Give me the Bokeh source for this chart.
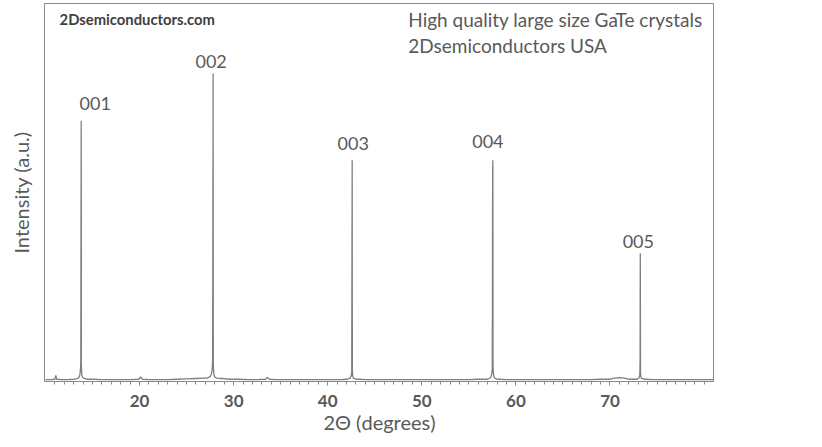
from bokeh.plotting import figure
from bokeh.models import FixedTicker, Range1d, ColumnDataSource, Label
from bokeh.core.properties import value
from bokeh.embed import file_html
from bokeh.resources import INLINE

# ---- data ----
base_2theta = [10.0, 10.6, 11.0, 11.1, 11.2, 11.8, 12.4, 13.0,
               15.0, 16.0, 17.0, 18.0, 19.0, 19.9, 20.1, 20.3, 21.0, 22.0, 23.0, 24.0, 25.0, 26.0, 27.0,
               28.8, 29.5, 30.5, 31.5, 32.5, 33.4, 33.6, 33.8, 34.5, 35.5, 36.5, 37.5, 38.5, 39.5, 40.5, 41.5, 42.0,
               43.3, 44.0, 45.0, 46.0, 47.0, 48.0, 49.0, 50.0, 51.0, 52.0, 53.0, 54.0, 55.0, 56.0, 56.6,
               58.2, 59.0, 60.0, 61.0, 62.0, 63.0, 64.0, 65.0, 66.0, 67.0, 68.0, 69.0, 70.0, 70.5, 71.0, 71.5, 72.0, 72.6,
               73.8, 74.5, 75.5, 76.5, 77.5, 78.5, 79.5, 80.5, 81.0]
base_int = [0.5, 0.5, 0.6, 1.6, 0.6, 0.5, 0.5, 0.6,
            0.6, 0.5, 0.5, 0.5, 0.5, 0.6, 1.2, 0.6, 0.5, 0.5, 0.5, 0.6, 0.7, 0.8, 0.9,
            0.8, 0.6, 0.6, 0.5, 0.5, 0.6, 1.1, 0.6, 0.5, 0.5, 0.5, 0.5, 0.5, 0.5, 0.5, 0.5, 0.6,
            0.6, 0.5, 0.5, 0.5, 0.5, 0.5, 0.5, 0.5, 0.5, 0.5, 0.5, 0.5, 0.5, 0.6, 0.6,
            0.6, 0.5, 0.5, 0.5, 0.5, 0.5, 0.5, 0.5, 0.5, 0.5, 0.5, 0.6, 0.6, 0.9, 1.0, 0.9, 0.6, 0.6,
            0.6, 0.5, 0.5, 0.5, 0.5, 0.5, 0.5, 0.5, 0.5]

p001_2theta = [13.30, 13.55, 13.66, 13.72, 13.76, 13.78, 13.79, 13.80, 13.81, 13.82, 13.84, 13.88, 13.95, 14.10, 14.40]
p001_int = [0.7, 1.0, 1.8, 3.0, 5.5, 46.6, 51.0, 69.0, 50.0, 4.5, 2.6, 1.6, 1.1, 0.8, 0.6]

p002_2theta = [27.20, 27.50, 27.64, 27.72, 27.77, 27.80, 27.81, 27.82, 27.83, 27.84, 27.87, 27.92, 28.00, 28.20, 28.50]
p002_int = [0.9, 1.3, 2.0, 3.2, 6.0, 55.8, 60.0, 81.5, 29.4, 5.0, 2.8, 1.7, 1.2, 0.9, 0.8]

p003_2theta = [42.10, 42.40, 42.50, 42.55, 42.58, 42.59, 42.60, 42.61, 42.62, 42.65, 42.70, 42.80, 43.00]
p003_int = [0.6, 0.9, 1.5, 2.6, 39.4, 45.0, 58.5, 24.6, 3.0, 1.6, 1.0, 0.8, 0.6]

p004_2theta = [57.00, 57.30, 57.42, 57.49, 57.53, 57.54, 57.55, 57.56, 57.57, 57.60, 57.66, 57.76, 58.00]
p004_int = [0.6, 1.0, 1.8, 3.4, 55.8, 57.0, 58.5, 28.8, 4.0, 2.2, 1.3, 0.9, 0.6]

p005_2theta = [72.90, 73.10, 73.17, 73.20, 73.21, 73.22, 73.23, 73.24, 73.28, 73.36, 73.60]
p005_int = [0.6, 1.0, 1.8, 6.1, 24.6, 33.9, 20.0, 2.5, 1.2, 0.8, 0.6]

peak_labels = ["001", "002", "003", "004", "005"]
peak_pos = [13.80, 27.82, 42.60, 57.55, 73.22]
peak_height = [69.0, 81.5, 58.5, 58.5, 33.9]

tick_values = [20, 30, 40, 50, 60, 70]
minor_tick_values = list(range(11, 81))

# ---- combine the trace ----
pairs = []
for xs, ys in [(base_2theta, base_int), (p001_2theta, p001_int), (p002_2theta, p002_int),
               (p003_2theta, p003_int), (p004_2theta, p004_int), (p005_2theta, p005_int)]:
    pairs.extend(zip(xs, ys))
pairs.sort(key=lambda t: t[0])
trace = ColumnDataSource(dict(x=[a for a, b in pairs], y=[b for a, b in pairs]))

FONT = "Lato"
TXT = "#595959"

p = figure(width=822, height=447, output_backend="svg", toolbar_location=None,
           x_range=Range1d(9.9, 81.0), y_range=Range1d(0, 100),
           min_border_left=44, min_border_right=109, min_border_top=3, min_border_bottom=66,
           background_fill_color="white", border_fill_color="white")
p.grid.visible = False
p.outline_line_color = "#898989"
p.outline_line_width = 1

p.line("x", "y", source=trace, line_color="#7f7f7f", line_width=1.3)

lab = ColumnDataSource(dict(x=peak_pos, y=peak_height, t=peak_labels,
                            xo=[14, -2, 1, -5, -2], yo=[-17, -12, -17, -19, -12]))
p.text("x", "y", text="t", source=lab, x_offset="xo", y_offset="yo",
       text_align="center", text_baseline="alphabetic",
       text_font=value(FONT), text_font_size="18px", text_color=TXT)

# x axis
xa = p.xaxis[0]
xa.ticker = FixedTicker(ticks=tick_values, minor_ticks=minor_tick_values)
xa.axis_line_color = "#898989"
xa.major_tick_line_color = "#898989"
xa.minor_tick_line_color = "#898989"
xa.major_tick_out = 4
xa.major_tick_in = 0
xa.minor_tick_out = 3
xa.minor_tick_in = 0
xa.major_label_standoff = 9
xa.major_label_text_font = FONT
xa.major_label_text_font_style = "bold"
xa.major_label_text_font_size = "17px"
xa.major_label_text_color = TXT
xa.axis_label = "2Θ (degrees)"
xa.axis_label_text_font = FONT
xa.axis_label_text_font_style = "normal"
xa.axis_label_text_font_size = "20px"
xa.axis_label_text_color = TXT
xa.axis_label_standoff = 0

# y axis
ya = p.yaxis[0]
ya.ticker = FixedTicker(ticks=[])
ya.axis_line_color = None
ya.major_tick_line_color = None
ya.minor_tick_line_color = None
ya.axis_label = "Intensity (a.u.)"
ya.axis_label_text_font = FONT
ya.axis_label_text_font_style = "normal"
ya.axis_label_text_font_size = "20px"
ya.axis_label_text_color = TXT
ya.axis_label_standoff = 12

p.add_layout(Label(x=11.5, y=95.77, text="2Dsemiconductors.com", text_font=FONT,
                   text_font_style="bold", text_font_size="14.8px", text_color="#404040",
                   text_baseline="alphabetic"))
p.add_layout(Label(x=48.56, y=95.77, text="High quality large size GaTe crystals", text_font=FONT,
                   text_font_size="19px", text_color=TXT, text_baseline="alphabetic"))
p.add_layout(Label(x=48.56, y=88.9, text="2Dsemiconductors USA", text_font=FONT,
                   text_font_size="19px", text_color=TXT, text_baseline="alphabetic"))

open("out.html", "w").write(file_html(p, INLINE))
